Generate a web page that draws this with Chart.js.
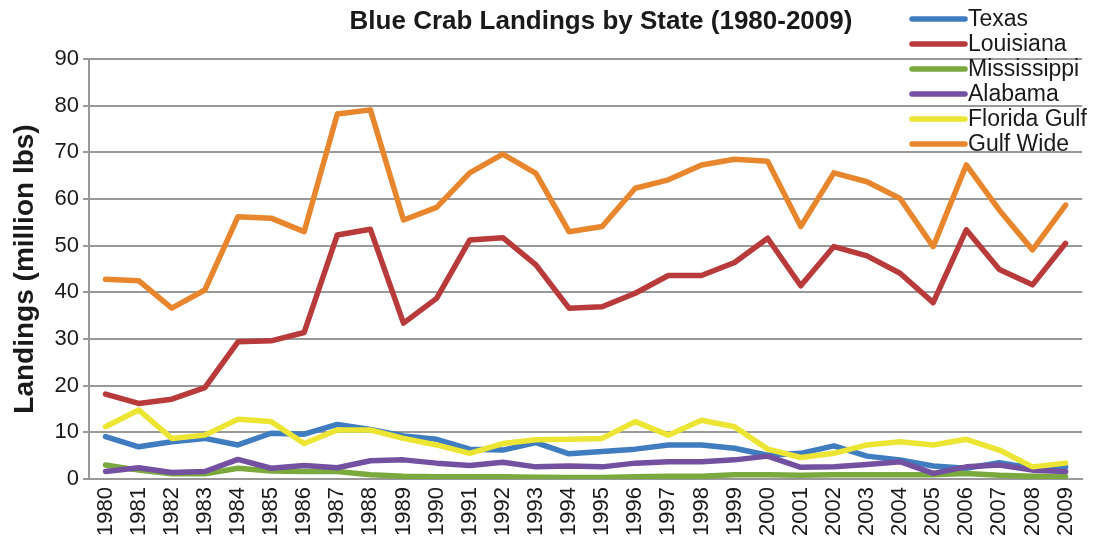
<!DOCTYPE html>
<html>
<head>
<meta charset="utf-8">
<script src="https://cdn.jsdelivr.net/npm/chart.js@4.4.1/dist/chart.umd.min.js"></script>
<style>
    html, body { margin: 0; padding: 0; background: #fff; }
    #wrap { width: 1100px; height: 543px; }
</style>
</head>
<body>
<div id="wrap"><canvas id="myChart"></canvas></div>
<script>
// years on the x axis
var years = ['1980', '1981', '1982', '1983', '1984', '1985', '1986', '1987', '1988', '1989',
    '1990', '1991', '1992', '1993', '1994', '1995', '1996', '1997', '1998', '1999',
    '2000', '2001', '2002', '2003', '2004', '2005', '2006', '2007', '2008', '2009'];

// landings, million lbs
var texas = [9.1, 6.9, 8.0, 8.7, 7.3, 9.8, 9.6, 11.7, 10.6, 9.2,
    8.5, 6.4, 6.2, 7.8, 5.4, 5.9, 6.4, 7.3, 7.3, 6.6,
    5.1, 5.5, 7.1, 4.9, 4.1, 2.8, 2.3, 3.5, 2.3, 2.6];
var louisiana = [18.2, 16.2, 17.1, 19.6, 29.4, 29.6, 31.4, 52.3, 53.5, 33.4,
    38.7, 51.2, 51.7, 45.9, 36.6, 36.9, 39.8, 43.6, 43.6, 46.4,
    51.6, 41.4, 49.8, 47.8, 44.1, 37.8, 53.4, 44.9, 41.6, 50.5];
var mississippi = [3.0, 1.9, 1.1, 1.1, 2.3, 1.7, 1.6, 1.6, 0.9, 0.6,
    0.5, 0.5, 0.5, 0.4, 0.3, 0.3, 0.5, 0.6, 0.6, 0.9,
    0.9, 0.8, 0.9, 0.9, 0.9, 0.9, 1.2, 0.8, 0.6, 0.5];
var alabama = [1.6, 2.4, 1.4, 1.6, 4.2, 2.3, 2.9, 2.4, 3.9, 4.1,
    3.4, 2.9, 3.6, 2.6, 2.8, 2.6, 3.4, 3.7, 3.7, 4.1,
    4.9, 2.5, 2.6, 3.1, 3.7, 1.2, 2.6, 3.0, 1.9, 1.6];
var floridaGulf = [11.2, 14.8, 8.7, 9.4, 12.8, 12.3, 7.6, 10.5, 10.5, 8.7,
    7.3, 5.5, 7.6, 8.4, 8.5, 8.7, 12.3, 9.4, 12.6, 11.2,
    6.4, 4.6, 5.5, 7.3, 8.0, 7.3, 8.5, 6.2, 2.6, 3.4];
var gulfWide = [42.8, 42.5, 36.6, 40.5, 56.2, 55.9, 53.0, 78.2, 79.1, 55.5,
    58.2, 65.6, 69.6, 65.5, 53.0, 54.1, 62.3, 64.1, 67.3, 68.5,
    68.1, 54.1, 65.6, 63.7, 60.1, 49.8, 67.3, 57.6, 49.1, 58.7];

var names = ['Texas', 'Louisiana', 'Mississippi', 'Alabama', 'Florida Gulf', 'Gulf Wide'];
var colors = ['#3f7cc0', '#b83a3a', '#7aa93e', '#7350a0', '#ece534', '#e8862e'];
var series = [texas, louisiana, mississippi, alabama, floridaGulf, gulfWide];

var yTicks = [0, 10, 20, 30, 40, 50, 60, 70, 80, 90];

var FONT = '"Liberation Sans", Arial, sans-serif';

var datasets = series.map(function (d, i) {
    return {
        label: names[i],
        data: d,
        borderColor: colors[i],
        backgroundColor: colors[i],
        borderWidth: 5.5,
        pointRadius: 0,
        tension: 0,
        borderCapStyle: 'round',
        borderJoinStyle: 'round',
        // later series sit on top
        order: series.length - i
    };
});

// title + legend drawn straight on the canvas
var overlay = {
    id: 'overlay',
    afterDraw: function (chart) {
        var ctx = chart.ctx;
        ctx.save();
        ctx.fillStyle = '#1a1a1a';
        ctx.font = 'bold 26px ' + FONT;
        ctx.textAlign = 'center';
        ctx.textBaseline = 'middle';
        ctx.fillText('Blue Crab Landings by State (1980-2009)', 601, 22);

        ctx.font = '23px ' + FONT;
        ctx.textAlign = 'left';
        ctx.lineCap = 'round';
        ctx.lineWidth = 5.5;
        for (var i = 0; i < names.length; i++) {
            var y = 19 + i * 25;
            ctx.strokeStyle = colors[i];
            ctx.beginPath();
            ctx.moveTo(912, y);
            ctx.lineTo(965, y);
            ctx.stroke();
            ctx.fillStyle = '#1a1a1a';
            ctx.fillText(names[i], 968, y + 1);
        }
        ctx.restore();
    }
};

var ctx = document.getElementById('myChart').getContext('2d');
var myChart = new Chart(ctx, {
    type: 'line',
    data: {
        labels: years,
        datasets: datasets
    },
    options: {
        responsive: true,
        maintainAspectRatio: false,
        animation: false,
        layout: {
            padding: { top: 59, right: 0, bottom: 0, left: 0 }
        },
        plugins: {
            legend: { display: false },
            title: { display: false },
            tooltip: { enabled: false }
        },
        scales: {
            x: {
                offset: true,
                grid: { display: false, drawTicks: false },
                border: { color: '#999', width: 2 },
                ticks: {
                    color: '#1a1a1a',
                    minRotation: 90,
                    maxRotation: 90,
                    autoSkip: false,
                    padding: 8,
                    font: { family: FONT, size: 22 }
                },
                afterFit: function (scale) { scale.height = 64; }
            },
            y: {
                min: 0,
                max: 90,
                afterBuildTicks: function (scale) {
                    scale.ticks = yTicks.map(function (v) { return { value: v }; });
                },
                grid: { color: '#999', lineWidth: 2, tickLength: 6 },
                border: { color: '#999', width: 2 },
                ticks: {
                    color: '#1a1a1a',
                    padding: 4,
                    font: { family: FONT, size: 22 }
                },
                title: {
                    display: true,
                    text: 'Landings (million lbs)',
                    color: '#1a1a1a',
                    padding: { top: 8, bottom: 0 },
                    font: { family: FONT, size: 28, weight: 'bold' }
                },
                afterFit: function (scale) { scale.width = 89; }
            }
        }
    },
    plugins: [overlay]
});
</script>
</body>
</html>
